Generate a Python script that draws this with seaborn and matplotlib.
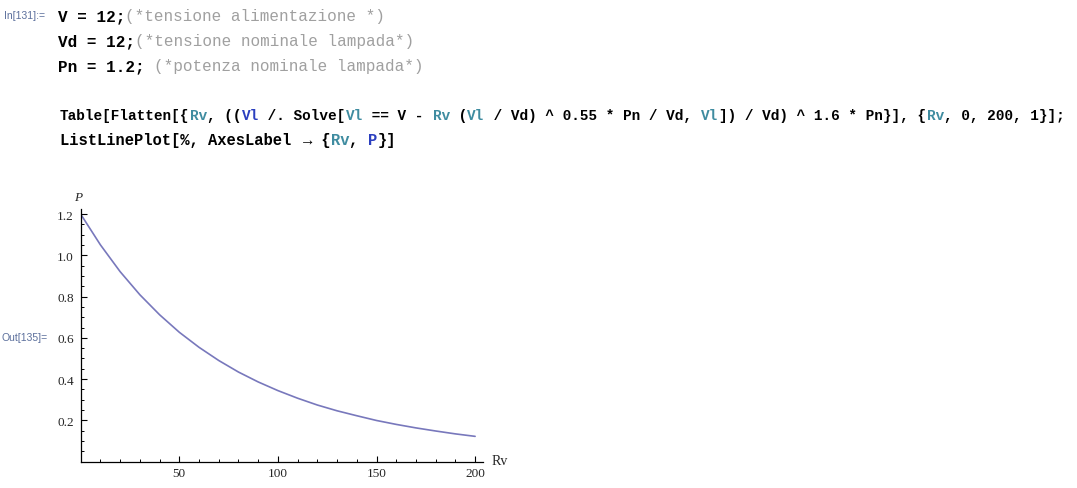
import numpy as np
import pandas as pd
import matplotlib
matplotlib.use("Agg")
import matplotlib.pyplot as plt
from matplotlib.ticker import MultipleLocator
import seaborn as sns

# values (Rv every 10 ohm)
rv = [0, 10, 20, 30, 40, 50, 60, 70, 80, 90, 100,
      110, 120, 130, 140, 150, 160, 170, 180, 190, 200]
p = [1.200, 1.051, 0.921, 0.809, 0.712, 0.627, 0.554, 0.490, 0.434, 0.386, 0.344,
     0.307, 0.274, 0.246, 0.222, 0.199, 0.180, 0.163, 0.148, 0.134, 0.122]
x_ticks = [50, 100, 150, 200]
y_ticks = [0.2, 0.4, 0.6, 0.8, 1.0, 1.2]

W, H, DPI = 1077, 489, 100

sns.set_style("ticks")
plt.rcParams['font.family'] = ['Liberation Serif', 'DejaVu Serif']

fig = plt.figure(figsize=(W / DPI, H / DPI), dpi=DPI)

BLACK = '#000000'
GRAY = '#a0a0a0'
TEAL = '#3f8ca0'
BLUE = '#2b3fbf'
LABEL = '#5b6f9c'
MONO = ['Liberation Mono', 'DejaVu Sans Mono']


def fx(x):
    return x / W


def fy(y):
    return 1 - y / H


def code_line(x0, y, segments, size):
    # monospace: advance each segment by char count, y is the baseline
    cw = size * 0.6 / 72 * DPI
    n = 0
    for txt, col, wt in segments:
        fig.text(fx(x0 + n * cw), fy(y), txt, family=MONO, fontsize=size,
                 color=col, weight=wt, va='baseline', ha='left')
        n += len(txt)


# input cell
fig.text(fx(4), fy(16), 'In[131]:=', family=['Liberation Sans'], fontsize=7.5,
         color=LABEL, va='center')
code_line(58, 21, [('V = 12;', BLACK, 'bold'),
                   ('(*tensione alimentazione *)', GRAY, 'normal')], 11.5)
code_line(58, 46, [('Vd = 12;', BLACK, 'bold'),
                   ('(*tensione nominale lampada*)', GRAY, 'normal')], 11.5)
code_line(58, 71, [('Pn = 1.2; ', BLACK, 'bold'),
                   ('(*potenza nominale lampada*)', GRAY, 'normal')], 11.5)

code_line(60, 120, [
    ('Table[Flatten[{', BLACK, 'bold'), ('Rv', TEAL, 'bold'),
    (', ((', BLACK, 'bold'), ('Vl', BLUE, 'bold'),
    (' /. Solve[', BLACK, 'bold'), ('Vl', TEAL, 'bold'),
    (' == V - ', BLACK, 'bold'), ('Rv', TEAL, 'bold'),
    (' (', BLACK, 'bold'), ('Vl', TEAL, 'bold'),
    (' / Vd) ^ 0.55 * Pn / Vd, ', BLACK, 'bold'), ('Vl', TEAL, 'bold'),
    (']) / Vd) ^ 1.6 * Pn}], {', BLACK, 'bold'), ('Rv', TEAL, 'bold'),
    (', 0, 200, 1}];', BLACK, 'bold')], 10.4)
code_line(60, 145, [
    ('ListLinePlot[%, AxesLabel ', BLACK, 'bold'), ('\u2192', BLACK, 'bold'),
    (' {', BLACK, 'bold'), ('Rv', TEAL, 'bold'),
    (', ', BLACK, 'bold'), ('P', BLUE, 'bold'), ('}]', BLACK, 'bold')], 11.2)

fig.text(fx(2), fy(338), 'Out[135]=', family=['Liberation Sans'], fontsize=7.5,
         color=LABEL, va='center')

# plot
x0, x1 = 80.7, 483.0
y0, y1 = 462.5, 210.0
ax = fig.add_axes([fx(x0), fy(y0), (x1 - x0) / W, (y0 - y1) / H])

df = pd.DataFrame({'Rv': rv, 'P': p})
sns.lineplot(data=df, x='Rv', y='P', ax=ax, color='#7878bc', linewidth=1.2)

ax.set_xlim(0, 204)
ax.set_ylim(0, 1.225)
ax.set_xticks(x_ticks)
ax.set_yticks(y_ticks)
ax.set_yticklabels([f'{v:.1f}' for v in y_ticks])
ax.xaxis.set_minor_locator(MultipleLocator(10))
ax.yaxis.set_minor_locator(MultipleLocator(0.05))
ax.tick_params(which='major', direction='in', length=4.5, width=0.8,
               labelsize=9.5, color='black')
ax.tick_params(which='minor', direction='in', length=2.5, width=0.7, color='black')
ax.tick_params(axis='x', pad=4)
ax.tick_params(axis='y', pad=5)
for s in ['top', 'right']:
    ax.spines[s].set_visible(False)
for s in ['left', 'bottom']:
    ax.spines[s].set_linewidth(0.9)
    ax.spines[s].set_color('black')
ax.set_xlabel('')
ax.set_ylabel('')
ax.set_facecolor('white')

fig.text(fx(492), fy(462), 'Rv', fontsize=10, va='center', ha='left')
fig.text(fx(78), fy(198), 'P', fontsize=9.5, style='italic', va='center', ha='center')

fig.savefig('out.png', dpi=DPI, facecolor='white')
